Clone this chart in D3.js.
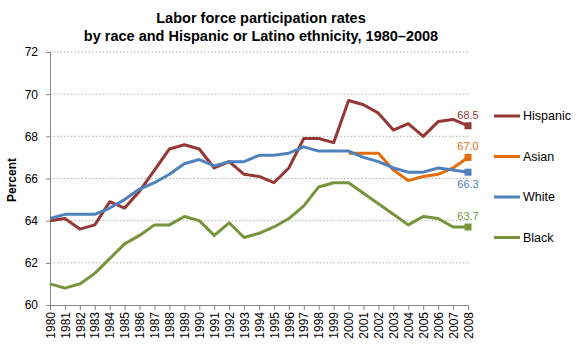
<!DOCTYPE html>
<html lang="en">
<head>
<meta charset="utf-8">
<title>Labor force participation rates</title>
<script src="https://cdn.jsdelivr.net/npm/d3@7"></script>
<style>
  body { margin: 0; background: #fff; }
  svg text { font-family: Arial, "Liberation Sans", sans-serif; }
  .grid line { stroke: #b0b0b0; stroke-width: 1; stroke-dasharray: 1.5 2; }
  .axis path, .axis line { stroke: #868686; }
  .axis text { fill: #000; font-size: 12px; }
</style>
</head>
<body>
<script>
// data
var years = d3.range(1980, 2009);
var hispanic = [64.0, 64.1, 63.6, 63.8, 64.9, 64.6, 65.4, 66.4, 67.4, 67.6, 67.4, 66.5, 66.8, 66.2, 66.1,
                65.8, 66.5, 67.9, 67.9, 67.7, 69.7, 69.5, 69.1, 68.3, 68.6, 68.0, 68.7, 68.8, 68.5];
var white = [64.1, 64.3, 64.3, 64.3, 64.6, 65.0, 65.5, 65.8, 66.2, 66.7, 66.9, 66.6, 66.8, 66.8, 67.1,
             67.1, 67.2, 67.5, 67.3, 67.3, 67.3, 67.0, 66.8, 66.5, 66.3, 66.3, 66.5, 66.4, 66.3];
var black = [61.0, 60.8, 61.0, 61.5, 62.2, 62.9, 63.3, 63.8, 63.8, 64.2, 64.0, 63.3, 63.9, 63.2, 63.4,
             63.7, 64.1, 64.7, 65.6, 65.8, 65.8, 65.3, 64.8, 64.3, 63.8, 64.2, 64.1, 63.7, 63.7];
// Asian series starts in 2000
var asianYears = d3.range(2000, 2009);
var asian = [67.2, 67.2, 67.2, 66.4, 65.9, 66.1, 66.2, 66.5, 67.0];
var yTicks = [60, 62, 64, 66, 68, 70, 72];

var series = [
  {name: "Hispanic", color: "#953735", yrs: years, vals: hispanic, labelDy: -7},
  {name: "Asian", color: "#E46C0A", yrs: asianYears, vals: asian, labelDy: -7},
  {name: "White", color: "#4F81BD", yrs: years, vals: white, labelDy: 16},
  {name: "Black", color: "#77933C", yrs: years, vals: black, labelDy: -7}
];

var w = 580, h = 360;
var svg = d3.select("body").append("svg").attr("width", w).attr("height", h);

var x = d3.scaleLinear().domain([1980, 2008]).range([50, 468]);
var y = d3.scaleLinear().domain([60, 72]).range([305, 52]);

// title
var title = svg.append("text")
  .attr("text-anchor", "middle")
  .attr("font-weight", "bold")
  .attr("font-size", "14.5px");
title.append("tspan").attr("x", 261).attr("y", 22.5).text("Labor force participation  rates");
title.append("tspan").attr("x", 261).attr("y", 40.5).text("by race and Hispanic or Latino ethnicity, 1980\u20132008");

// gridlines
svg.append("g").attr("class", "grid")
  .selectAll("line")
  .data(yTicks.filter(function(d) { return d > 60; }))
  .enter().append("line")
  .attr("x1", x(1980)).attr("x2", x(2008))
  .attr("y1", function(d) { return y(d); })
  .attr("y2", function(d) { return y(d); });

// y axis
svg.append("g").attr("class", "axis")
  .attr("transform", "translate(" + x(1980) + ",0)")
  .call(d3.axisLeft(y).tickValues(yTicks).tickSize(4).tickSizeOuter(4).tickPadding(8))
  .selectAll("text").attr("font-size", "12.5px");

// x axis
var xAxis = svg.append("g").attr("class", "axis")
  .attr("transform", "translate(0," + y(60) + ")")
  .call(d3.axisBottom(x).tickValues(years).tickFormat(d3.format("d")).tickSize(5).tickSizeOuter(0));
xAxis.selectAll("text")
  .attr("transform", "rotate(-90)")
  .attr("text-anchor", "end")
  .attr("x", -7)
  .attr("y", 0)
  .attr("dy", "0.35em");

// y title
svg.append("text")
  .attr("transform", "translate(16,180) rotate(-90)")
  .attr("text-anchor", "middle")
  .attr("font-weight", "bold")
  .attr("font-size", "12px")
  .text("Percent");

// lines
var line = d3.line()
  .x(function(d) { return x(d[0]); })
  .y(function(d) { return y(d[1]); });

series.forEach(function(s) {
  var pts = s.yrs.map(function(yr, i) { return [yr, s.vals[i]]; });
  svg.append("path")
    .datum(pts)
    .attr("fill", "none")
    .attr("stroke", s.color)
    .attr("stroke-width", 3)
    .attr("stroke-linejoin", "round")
    .attr("d", line);
  var last = pts[pts.length - 1];
  svg.append("rect")
    .attr("x", x(last[0]) - 3.5).attr("y", y(last[1]) - 3.5)
    .attr("width", 7).attr("height", 7)
    .attr("fill", s.color);
  svg.append("text")
    .attr("x", x(last[0]))
    .attr("y", y(last[1]) + s.labelDy)
    .attr("text-anchor", "middle")
    .attr("font-size", "11px")
    .attr("fill", s.color)
    .text(d3.format(".1f")(last[1]));
});

// legend
var legend = svg.append("g").selectAll("g")
  .data(series)
  .enter().append("g")
  .attr("transform", function(d, i) { return "translate(494," + (116 + i * 40.5) + ")"; });
legend.append("line")
  .attr("x1", 0).attr("x2", 26)
  .attr("stroke", function(d) { return d.color; })
  .attr("stroke-width", 3);
legend.append("text")
  .attr("x", 29).attr("dy", "0.35em")
  .attr("font-size", "12.5px")
  .attr("fill", "#000")
  .text(function(d) { return d.name; });
</script>
</body>
</html>
